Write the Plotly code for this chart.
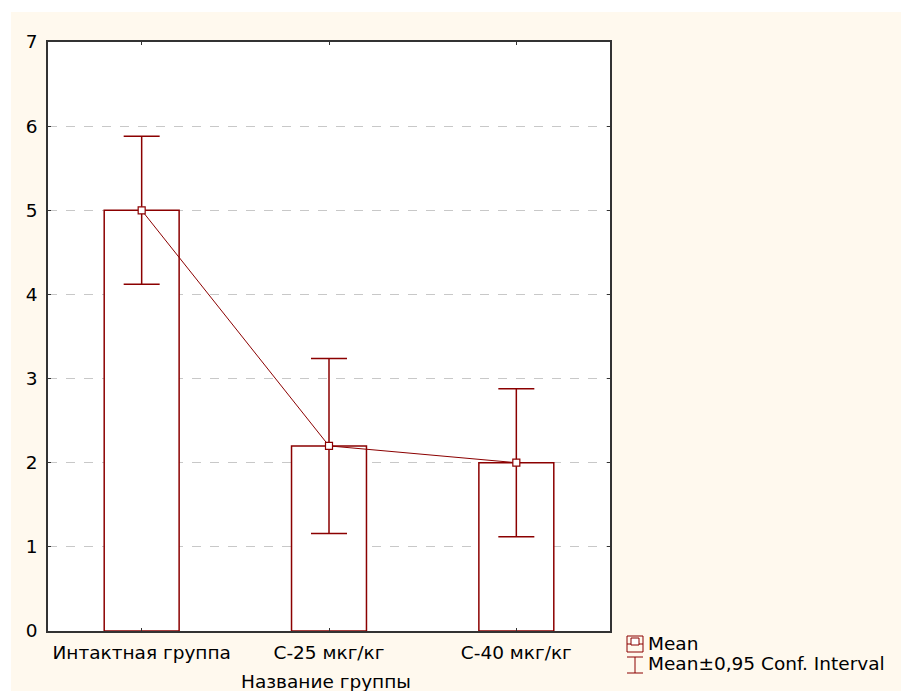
import plotly.graph_objects as go

# Group means with 95% confidence half-widths
groups = ["Интактная группа", "С-25 мкг/кг", "С-40 мкг/кг"]
means = [5.0, 2.2, 2.0]
ci_half = [0.88, 1.04, 0.88]
y_ticks = [0, 1, 2, 3, 4, 5, 6, 7]

DARK_RED = "#8B0000"
CREAM = "#FFF9EE"
FONT = "DejaVu Sans, Arial, sans-serif"
FS = 18.5

W, H = 901, 691
L, R, T, B = 48, 610, 42, 631  # plot area in pixels


def px(x):
    return (x - L) / (R - L)


def py(y):
    return (B - y) / (B - T)


fig = go.Figure()

fig.add_trace(go.Bar(
    x=groups, y=means,
    marker=dict(color="white", line=dict(color=DARK_RED, width=1.5)),
    width=0.4, showlegend=False, hoverinfo="skip",
))

fig.add_trace(go.Scatter(
    x=groups, y=means, mode="lines+markers",
    line=dict(color=DARK_RED, width=1),
    marker=dict(symbol="square", size=7, color="white",
                line=dict(color=DARK_RED, width=1.2)),
    error_y=dict(type="data", array=ci_half, symmetric=True,
                 color=DARK_RED, thickness=1.5, width=18),
    showlegend=False,
))

shapes = [
    # white strips framing the cream page background
    dict(type="rect", xref="paper", yref="paper", layer="below",
         x0=px(0), x1=px(W), y0=py(12), y1=py(-5),
         fillcolor="white", line=dict(width=0)),
    dict(type="rect", xref="paper", yref="paper", layer="below",
         x0=px(-5), x1=px(11), y0=py(H + 5), y1=py(-5),
         fillcolor="white", line=dict(width=0)),
    # legend icon: mean
    dict(type="rect", xref="paper", yref="paper",
         x0=px(627), x1=px(643), y0=py(652), y1=py(636),
         line=dict(color=DARK_RED, width=1), fillcolor="rgba(0,0,0,0)"),
    dict(type="line", xref="paper", yref="paper",
         x0=px(627), x1=px(643), y0=py(644), y1=py(644),
         line=dict(color=DARK_RED, width=1)),
    dict(type="rect", xref="paper", yref="paper",
         x0=px(631), x1=px(639), y0=py(645), y1=py(638),
         line=dict(color=DARK_RED, width=1), fillcolor="white"),
    # legend icon: confidence interval
    dict(type="line", xref="paper", yref="paper",
         x0=px(627), x1=px(643), y0=py(657), y1=py(657),
         line=dict(color=DARK_RED, width=1)),
    dict(type="line", xref="paper", yref="paper",
         x0=px(627), x1=px(643), y0=py(673), y1=py(673),
         line=dict(color=DARK_RED, width=1)),
    dict(type="line", xref="paper", yref="paper",
         x0=px(635), x1=px(635), y0=py(657), y1=py(673),
         line=dict(color=DARK_RED, width=1)),
]

annotations = [
    dict(text="Mean", xref="paper", yref="paper", x=px(646), y=py(643),
         xanchor="left", yanchor="middle", showarrow=False,
         font=dict(size=FS, color="black", family=FONT)),
    dict(text="Mean±0,95 Conf. Interval", xref="paper", yref="paper",
         x=px(646), y=py(663), xanchor="left", yanchor="middle",
         showarrow=False, font=dict(size=FS, color="black", family=FONT)),
    # x-axis title
    dict(text="Название группы", xref="paper", yref="paper",
         x=px(326), y=py(681), xanchor="center", yanchor="middle",
         showarrow=False, font=dict(size=FS, color="black", family=FONT)),
]

fig.update_layout(
    width=W, height=H,
    margin=dict(l=L, r=W - R, t=T, b=H - B, pad=0),
    paper_bgcolor=CREAM, plot_bgcolor="white",
    font=dict(family=FONT, size=FS, color="black"),
    bargap=0.6,
    shapes=shapes, annotations=annotations,
    xaxis=dict(
        range=[-0.5, 2.5], showline=True, linecolor="#333333", linewidth=1.5,
        mirror="ticks", ticks="inside", ticklen=3, tickcolor="#333333",
        showgrid=False, zeroline=False, ticklabelstandoff=4,
        tickfont=dict(size=FS, family=FONT),
    ),
    yaxis=dict(
        range=[0, 7], tickvals=y_ticks, showline=True, linecolor="#333333",
        linewidth=1.5, mirror="ticks", ticks="inside", ticklen=3,
        tickcolor="#333333", showgrid=True, gridcolor="#C8C8C8",
        griddash="dash", gridwidth=1, zeroline=False, ticklabelstandoff=5,
        tickfont=dict(size=FS, family=FONT),
    ),
)

fig.write_html("out.html")
